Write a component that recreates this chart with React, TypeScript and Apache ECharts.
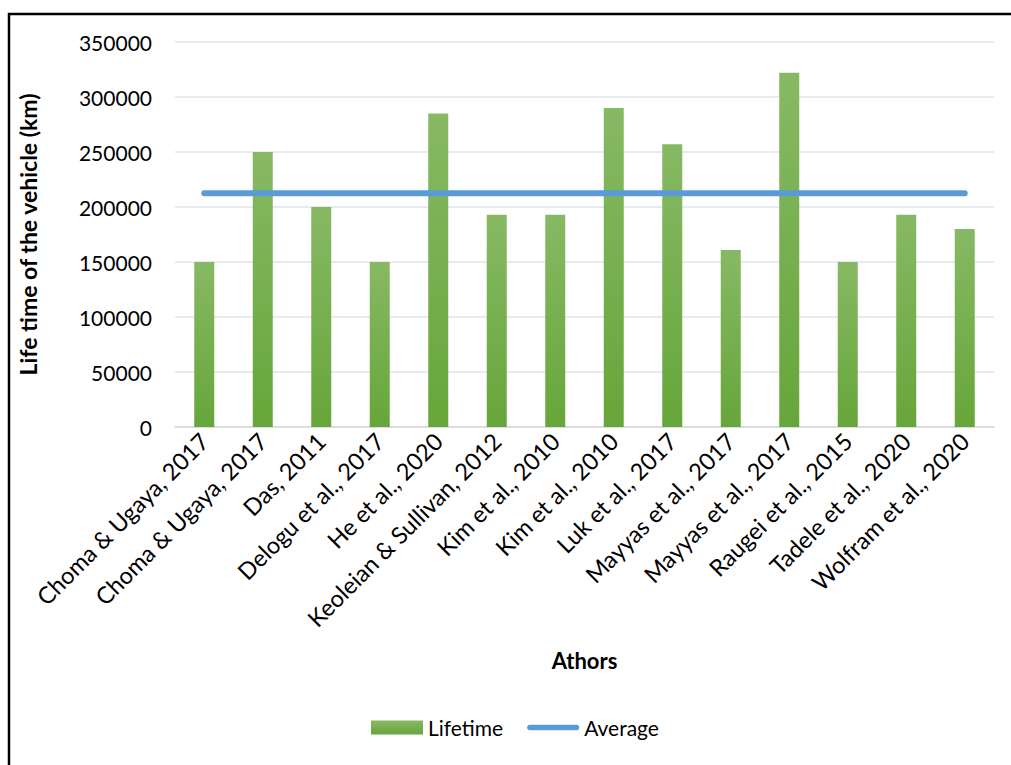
import React, { useEffect, useRef } from "react";
import * as echarts from "echarts";

const categories = [
  "Choma & Ugaya, 2017",
  "Choma & Ugaya, 2017",
  "Das, 2011",
  "Delogu et al., 2017",
  "He et al., 2020",
  "Keoleian & Sullivan, 2012",
  "Kim et al., 2010",
  "Kim et al., 2010",
  "Luk et al., 2017",
  "Mayyas et al., 2017",
  "Mayyas et al., 2017",
  "Raugei et al., 2015",
  "Tadele et al., 2020",
  "Wolfram et al., 2020",
];
const lifetime = [150000, 250000, 200000, 150000, 285000, 193000, 193000, 290000, 257000, 161000, 322000, 150000, 193000, 180000];
const average = [212400, 212400, 212400, 212400, 212400, 212400, 212400, 212400, 212400, 212400, 212400, 212400, 212400, 212400];

const FONT = "Lato, 'Open Sans', sans-serif";

export default function App() {
  const ref = useRef<HTMLDivElement>(null);
  useEffect(() => {
    if (!ref.current) return;
    const chart = echarts.init(ref.current, null, { renderer: "svg" });
    chart.setOption({
      animation: false,
      backgroundColor: "#ffffff",
      textStyle: { fontFamily: FONT },
      graphic: [
        {
          type: "rect",
          shape: { x: 9, y: 14, width: 1100, height: 900 },
          style: { fill: "none", stroke: "#000", lineWidth: 2.5 },
          silent: true,
        },
      ],
      grid: { left: 175, right: 17, top: 42, bottom: 338, containLabel: false },
      legend: {
        bottom: 22,
        left: 366,
        itemGap: 24,
        itemWidth: 52,
        itemHeight: 14,
        textStyle: { fontSize: 21, color: "#000", fontFamily: FONT },
        data: [
          { name: "Lifetime", icon: "rect" },
          {
            name: "Average",
            icon: "path://M3,0 L55,0 A3,3 0 0 1 55,6 L3,6 A3,3 0 0 1 3,0 Z",
            itemStyle: { color: "#5b9bd5" },
          },
        ],
      },
      xAxis: {
        type: "category",
        data: categories,
        name: "Athors",
        nameLocation: "middle",
        nameGap: 222,
        nameTextStyle: { fontSize: 22, fontWeight: "bold", color: "#000", fontFamily: FONT },
        axisLine: { lineStyle: { color: "#d9d9d9", width: 1.5 } },
        axisTick: { show: false },
        axisLabel: { rotate: 45, fontSize: 23.5, color: "#000", interval: 0, margin: 10, fontFamily: FONT },
      },
      yAxis: {
        type: "value",
        min: 0,
        max: 350000,
        interval: 50000,
        name: "Life time of the vehicle (km)",
        nameLocation: "middle",
        nameGap: 136,
        nameTextStyle: { fontSize: 23, fontWeight: "bold", color: "#000", fontFamily: FONT },
        axisLine: { show: false },
        axisTick: { show: false },
        axisLabel: {
          fontSize: 21,
          color: "#000",
          margin: 23,
          fontFamily: FONT,
          formatter: (v: number) => String(v),
        },
        splitLine: { lineStyle: { color: "#dfe3ea", width: 1.5 } },
      },
      series: [
        {
          name: "Lifetime",
          type: "bar",
          data: lifetime,
          barWidth: 20,
          itemStyle: {
            color: new echarts.graphic.LinearGradient(0, 0, 0, 1, [
              { offset: 0, color: "#87b964" },
              { offset: 1, color: "#67a63a" },
            ]),
          },
        },
        {
          name: "Average",
          type: "line",
          data: average,
          symbol: "none",
          lineStyle: { color: "#5b9bd5", width: 6, cap: "round" },
          itemStyle: { color: "#5b9bd5" },
        },
      ],
    });
    return () => chart.dispose();
  }, []);
  return (
    <div
      ref={ref}
      style={{ position: "fixed", left: 0, top: 0, width: 1011, height: 765, overflow: "hidden" }}
    />
  );
}
